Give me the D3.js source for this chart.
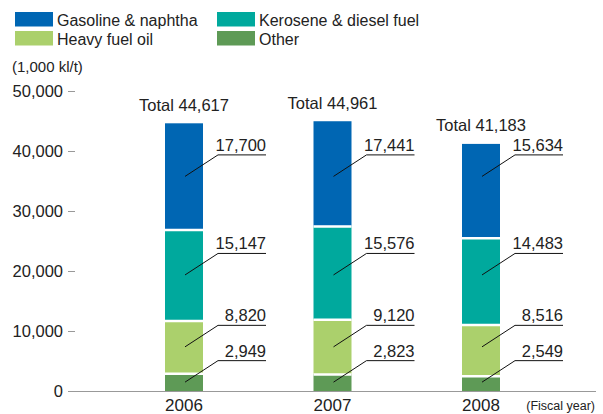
<!DOCTYPE html>
<html>
<head>
<meta charset="utf-8">
<script src="https://cdn.jsdelivr.net/npm/d3@7"></script>
<style>
  body { margin: 0; background: #fff; }
  svg { display: block; font-family: "Liberation Sans", Arial, Helvetica, sans-serif; }
</style>
</head>
<body>
<svg id="chart" width="603" height="414"></svg>
<script>
// ---- data ----
const years = ["2006", "2007", "2008"];
const seriesNames = ["Gasoline & naphtha", "Kerosene & diesel fuel", "Heavy fuel oil", "Other"];
const gasoline = [17700, 17441, 15634];
const kerosene = [15147, 15576, 14483];
const heavyFuel = [8820, 9120, 8516];
const other = [2949, 2823, 2549];
const totals = [44617, 44961, 41183];
const yTicks = [0, 10000, 20000, 30000, 40000, 50000];
const colors = ["#0066b3", "#00a99d", "#abd06c", "#5e9a56"];

// ---- setup ----
const svg = d3.select("#chart");
const textColor = "#222";
const fmt = d3.format(",");

const x = d3.scalePoint().domain(years).range([184, 481]);
const y = d3.scaleLinear().domain([0, 50000]).range([391, 91]);
const barW = 38;

// rows for stacking (bottom to top: other, heavy, kerosene, gasoline)
const rows = years.map((yr, i) => ({
  year: yr, other: other[i], heavy: heavyFuel[i], kerosene: kerosene[i], gasoline: gasoline[i]
}));
const keys = ["other", "heavy", "kerosene", "gasoline"];
const keyColor = { gasoline: colors[0], kerosene: colors[1], heavy: colors[2], other: colors[3] };
const stack = d3.stack().keys(keys)(rows);

// ---- axis ----
const axisG = svg.append("g");
axisG.append("line")
  .attr("x1", 68).attr("x2", 596)
  .attr("y1", y(0) + 0.5).attr("y2", y(0) + 0.5)
  .attr("stroke", "#999").attr("stroke-width", 1);
yTicks.forEach(t => {
  if (t > 0) {
    axisG.append("line")
      .attr("x1", 68).attr("x2", 75)
      .attr("y1", y(t) + 0.5).attr("y2", y(t) + 0.5)
      .attr("stroke", "#999").attr("stroke-width", 1);
  }
  axisG.append("text")
    .attr("x", 63).attr("y", y(t) + 6)
    .attr("text-anchor", "end")
    .attr("font-size", 16.5).attr("fill", textColor)
    .text(fmt(t));
});

svg.append("text").attr("x", 12).attr("y", 72)
  .attr("font-size", 15).attr("fill", textColor).text("(1,000 kl/t)");

// ---- bars ----
stack.forEach(layer => {
  svg.append("g").selectAll("rect").data(layer).join("rect")
    .attr("x", d => x(d.data.year) - barW / 2)
    .attr("width", barW)
    .attr("y", d => y(d[1]))
    .attr("height", d => y(d[0]) - y(d[1]))
    .attr("fill", keyColor[layer.key]);
});
// white separators between segments
stack.slice(1).forEach(layer => {
  svg.append("g").selectAll("line").data(layer).join("line")
    .attr("x1", d => x(d.data.year) - barW / 2)
    .attr("x2", d => x(d.data.year) + barW / 2)
    .attr("y1", d => y(d[0]) + 0.5)
    .attr("y2", d => y(d[0]) + 0.5)
    .attr("stroke", "#fff").attr("stroke-width", 2.5);
});

// ---- leader lines and value labels ----
stack.forEach(layer => {
  const first = layer[0];
  const ys = (y(first[0]) + y(first[1])) / 2; // aligned with first bar's segment middle
  layer.forEach(d => {
    const cx = x(d.data.year);
    const ye = ys - 21.5;
    svg.append("polyline")
      .attr("points", [[cx + 1, ys], [cx + 34, ye], [cx + 82, ye]].map(p => p.join(",")).join(" "))
      .attr("fill", "none").attr("stroke", "#111").attr("stroke-width", 1);
    svg.append("text")
      .attr("x", cx + 82).attr("y", ye - 4)
      .attr("text-anchor", "end")
      .attr("font-size", 16.5).attr("fill", textColor)
      .text(fmt(d[1] - d[0]));
  });
});

// ---- totals ----
years.forEach((yr, i) => {
  svg.append("text")
    .attr("x", x(yr)).attr("y", y(totals[i]) - 12.5)
    .attr("text-anchor", "middle")
    .attr("font-size", 16.5).attr("fill", textColor)
    .text("Total " + fmt(totals[i]));
});

// ---- x labels ----
years.forEach(yr => {
  svg.append("text")
    .attr("x", x(yr)).attr("y", 411)
    .attr("text-anchor", "middle")
    .attr("font-size", 17).attr("fill", textColor)
    .text(yr);
});
svg.append("text").attr("x", 595).attr("y", 410)
  .attr("text-anchor", "end")
  .attr("font-size", 12.5).attr("fill", textColor).text("(Fiscal year)");

// ---- legend ----
const legendPos = [[15, 12], [217, 12], [15, 31], [217, 31]];
seriesNames.forEach((name, i) => {
  const [lx, ly] = legendPos[i];
  svg.append("rect").attr("x", lx).attr("y", ly).attr("width", 38).attr("height", 14.5)
    .attr("fill", colors[i]);
  svg.append("text").attr("x", lx + 42).attr("y", ly + 13.5)
    .attr("font-size", 16).attr("fill", textColor).text(name);
});
</script>
</body>
</html>
